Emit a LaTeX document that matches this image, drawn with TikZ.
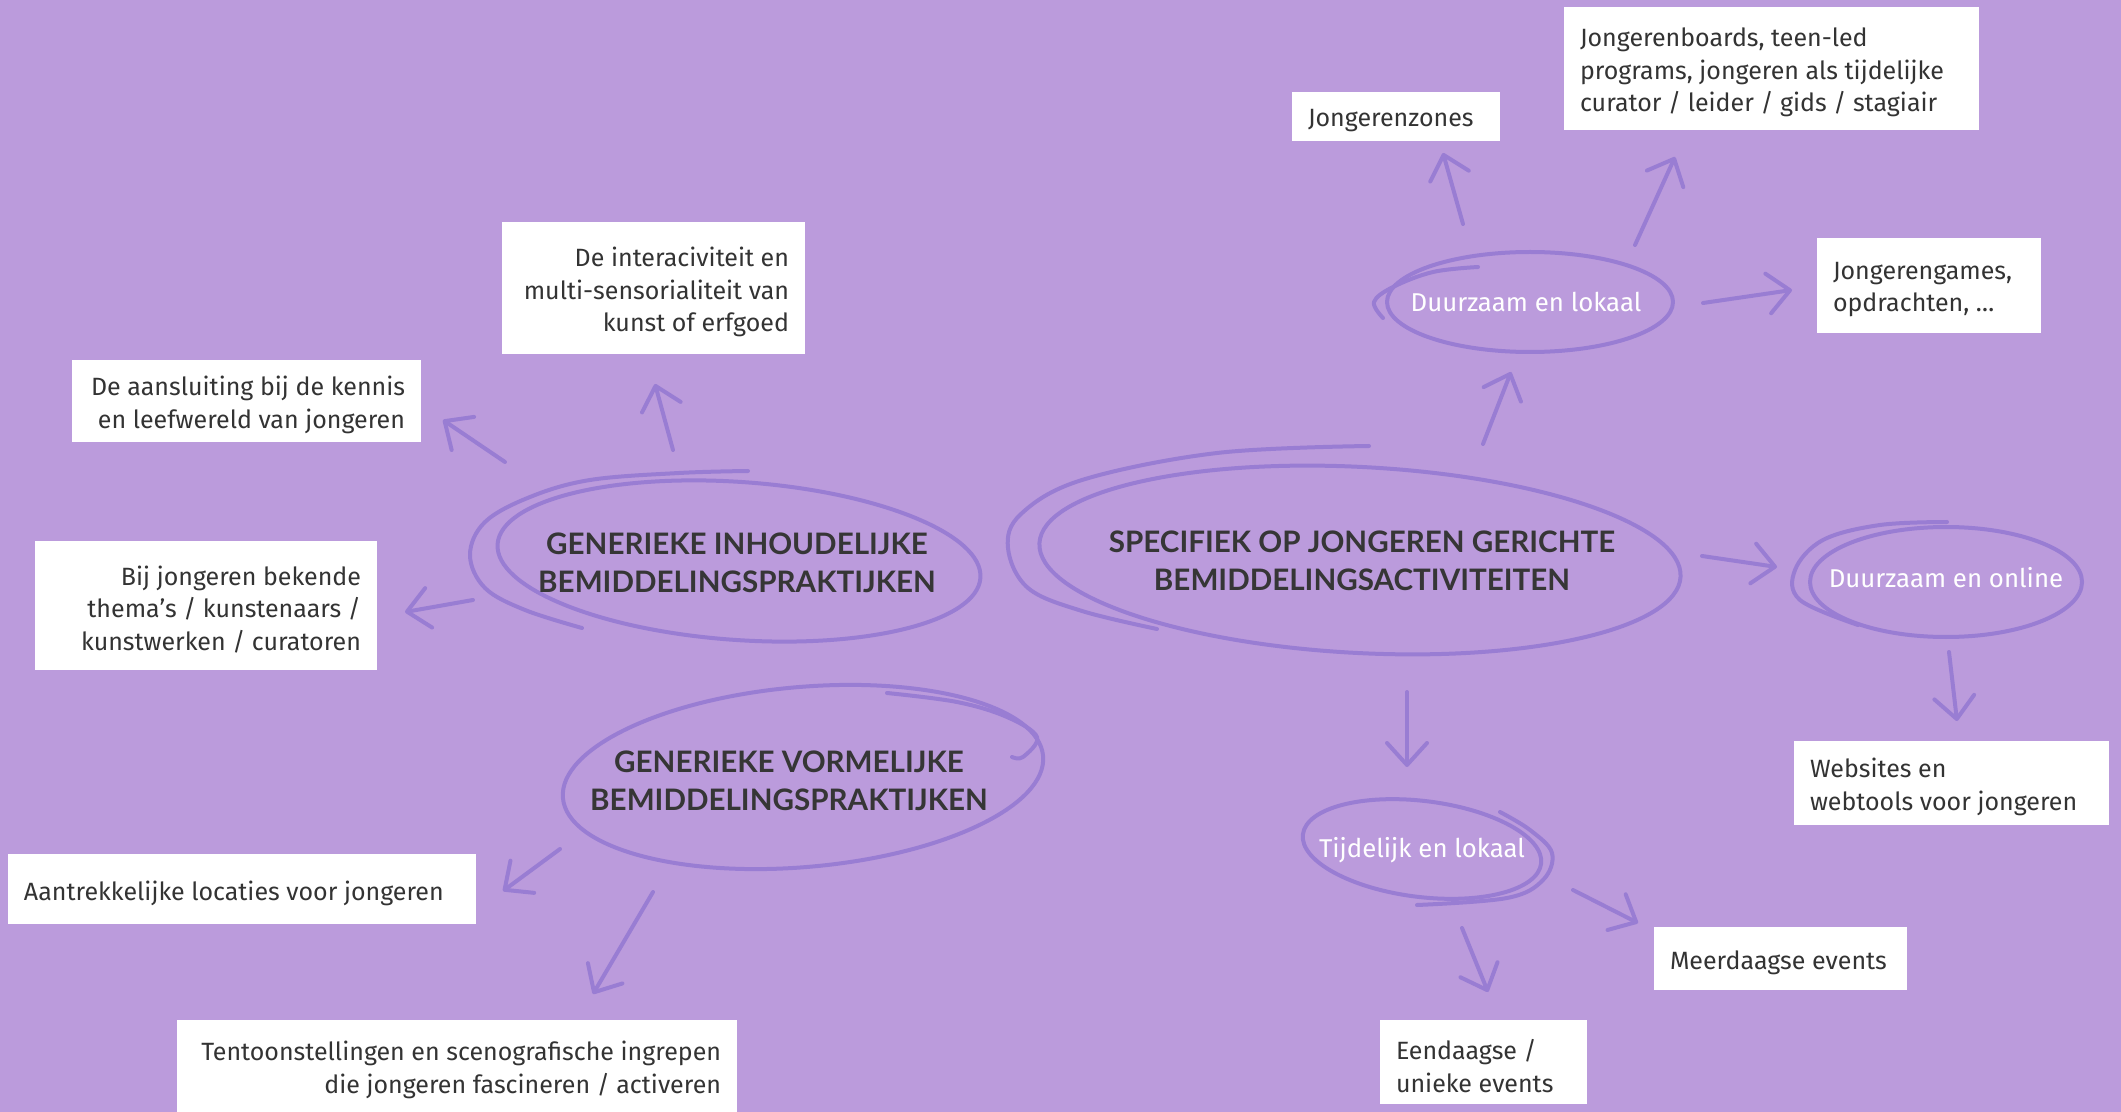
\documentclass[tikz,border=0pt]{standalone}
\usepackage{fontspec}
\setmainfont{Fira Sans}
\newfontfamily\headfont{Lato}
\usetikzlibrary{arrows.meta}
\definecolor{bg}{HTML}{BB9BDC}
\definecolor{ln}{HTML}{997DD3}
\definecolor{txt}{HTML}{333333}
\definecolor{hd}{HTML}{363636}
\tikzset{
  boxbg/.style={fill=white, draw=none, inner sep=0pt},
  boxtxt/.style={text=txt, inner sep=0pt, font=\fontsize{12.5}{16.2}\selectfont},
  head/.style={text=hd, align=center, inner sep=0pt, font=\headfont\bfseries\fontsize{14.8}{19}\selectfont},
  lab/.style={text=white, inner sep=0pt, font=\fontsize{12.9}{15}\selectfont},
  stroke/.style={draw=ln, line width=2pt, line cap=round, line join=round},
  arr/.style={stroke, -{Straight Barb[length=11pt, width=20pt, line cap=round, line join=round]}},
}
% name, x, y, width(px), height(px), text  -- left-aligned text
\newcommand\lbox[6]{%
  \node[boxbg, minimum width=#4*0.5pt, minimum height=#5*0.5pt] (#1) at (#2,#3) {};
  \node[boxtxt, align=left, anchor=west] (#1t) at ([xshift=8pt,yshift=-2pt]#1.west) {#6};
}
% right-aligned text
\newcommand\rbox[6]{%
  \node[boxbg, minimum width=#4*0.5pt, minimum height=#5*0.5pt] (#1) at (#2,#3) {};
  \node[boxtxt, align=right, anchor=east] (#1t) at ([xshift=-8pt,yshift=-2pt]#1.east) {#6};
}
\begin{document}
\begin{tikzpicture}[x=0.5pt, y=-0.5pt]
\fill[bg] (0,0) rectangle (2121,1112);
\useasboundingbox (0,0) rectangle (2121,1112);

% ---- ellipses ----
\draw[stroke, rotate around={-4:(739,561)}] (739,561) ellipse [x radius=242, y radius=79];
\draw[stroke] plot[smooth, tension=0.6] coordinates {(748,471) (679,473) (590,480) (530,497) (485,522) (470,555) (485,588) (525,610) (582,628)};

\draw[stroke, rotate around={-3:(1360,560)}] (1360,560) ellipse [x radius=321, y radius=93];
\draw[stroke] plot[smooth, tension=0.6] coordinates {(1369,446) (1217,453) (1082,480) (1021,514) (1008,548) (1028,588) (1082,611) (1157,629)};

\draw[stroke, rotate around={5:(803,777)}] (803,777) ellipse [x radius=241, y radius=90];
\draw[stroke] plot[smooth, tension=0.6] coordinates {(887,693) (957,702) (1007,717) (1037,737) (1023,757) (1012,757)};

\draw[stroke] (1530,302) ellipse [x radius=143, y radius=50];
\draw[stroke] plot[smooth, tension=0.6] coordinates {(1478,267) (1433,272) (1393,287) (1374,302) (1383,318)};

\draw[stroke] (1946,582) ellipse [x radius=136, y radius=55];
\draw[stroke] plot[smooth, tension=0.6] coordinates {(1947,522) (1880,525) (1823,540) (1795,570) (1800,600) (1858,625)};

\draw[stroke, rotate around={-7:(1422,849)}] (1422,849) ellipse [x radius=120, y radius=48];
\draw[stroke] plot[smooth, tension=0.6] coordinates {(1500,812) (1530,830) (1552,853) (1543,880) (1507,898) (1417,905)};

% ---- ellipse labels ----
\node[head] (gi) at (737,563) {GENERIEKE INHOUDELIJKE\\BEMIDDELINGSPRAKTIJKEN};
\node[head] (sp) at (1362,561) {SPECIFIEK OP JONGEREN GERICHTE\\BEMIDDELINGSACTIVITEITEN};
\node[head] (gv) at (789,781) {GENERIEKE VORMELIJKE\\BEMIDDELINGSPRAKTIJKEN};
\node[lab] (dl) at (1526,302) {Duurzaam en lokaal};
\node[lab] (do) at (1946,578) {Duurzaam en online};
\node[lab] (tl) at (1422,850) {Tijdelijk en lokaal};

% ---- boxes ----
\lbox{b1}{1396}{116.5}{208}{49}{Jongerenzones}
\lbox{b2}{1771.5}{68.5}{415}{123}{Jongerenboards, teen-led\\programs, jongeren als tijdelijke\\curator / leider / gids / stagiair}
\lbox{b3}{1929}{285.5}{224}{95}{Jongerengames,\\opdrachten, \dots}
\rbox{b4}{653.5}{288}{303}{132}{De interaciviteit en\\multi-sensorialiteit van\\kunst of erfgoed}
\rbox{b5}{246.5}{401}{349}{82}{De aansluiting bij de kennis\\en leefwereld van jongeren}
\rbox{b6}{206}{605.5}{342}{129}{Bij jongeren bekende\\thema’s / kunstenaars /\\kunstwerken / curatoren}
\lbox{b7}{242}{889}{468}{70}{Aantrekkelijke locaties voor jongeren}
\rbox{b8}{457}{1066}{560}{92}{Tentoonstellingen en scenografische ingrepen\\die jongeren fascineren / activeren}
\lbox{b9}{1483.5}{1062}{207}{84}{Eendaagse /\\unieke events}
\lbox{b10}{1780.5}{958.5}{253}{63}{Meerdaagse events}
\lbox{b11}{1951.5}{783}{315}{84}{Websites en\\webtools voor jongeren}

% ---- arrow end points ----
\coordinate (s1) at (1463,224);  \coordinate (t1) at (1443,153);
\coordinate (s2) at (1635,245);  \coordinate (t2) at (1675,157);
\coordinate (s3) at (1703,303);  \coordinate (t3) at (1792,290);
\coordinate (s4) at (1483,444);  \coordinate (t4) at (1511,372);
\coordinate (s5) at (1702,556);  \coordinate (t5) at (1777,567);
\coordinate (s6) at (1949,652);  \coordinate (t6) at (1957,721);
\coordinate (s7) at (1407,692);  \coordinate (t7) at (1407,767);
\coordinate (s8) at (1462,928);  \coordinate (t8) at (1488,992);
\coordinate (s9) at (1573,890);  \coordinate (t9) at (1638,923);
\coordinate (s10) at (673,450);  \coordinate (t10) at (655,384);
\coordinate (s11) at (505,462);  \coordinate (t11) at (443,420);
\coordinate (s12) at (473,600);  \coordinate (t12) at (405,612);
\coordinate (s13) at (560,849);  \coordinate (t13) at (503,891);
\coordinate (s14) at (653,892);  \coordinate (t14) at (593,994);

\foreach \i in {1,...,14} { \draw[arr] (s\i) -- (t\i); }
\end{tikzpicture}
\end{document}
